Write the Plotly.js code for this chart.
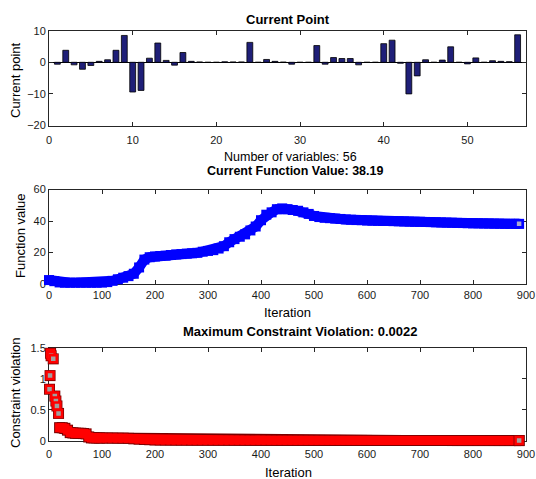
<!DOCTYPE html>
<html>
<head>
<meta charset="utf-8">
<script src="https://cdn.plot.ly/plotly-3.0.1.min.js"></script>
<style>html,body{margin:0;padding:0;background:#fff}#chart{width:536px;height:479px}</style>
</head>
<body>
<div id="chart"></div>
<script>
// ---- Data ----
const barValues = [-0.6, 3.8, -0.8, -2.2, -1.0, 0.3, 0.8, 3.8, 8.5, -9.4,
  -8.9, 1.3, 6.1, 0.6, -0.9, 3.1, 0.3, 0.1, 0.0, 0.0,
  0.15, 0.1, 0.1, 6.3, 0.0, 0.9, 0.3, 0.05, -0.6, 0.0,
  0.0, 5.3, -0.6, 1.5, 1.2, 1.2, -0.8, 0.0, 0.0, 5.9,
  7.0, -0.3, -10.0, -4.3, 0.8, 0.0, 0.7, 4.9, 0.0, -0.5,
  1.4, 0.0, 0.5, 0.3, 0.2, 8.7];
const barIndex = barValues.map((_, i) => i + 1);

const fvalIter = [0,10,20,30,40,50,60,70,80,90,100,110,120,130,140,150,160,170,180,190,
  200,210,220,230,240,250,260,270,280,290,300,310,320,330,340,350,360,370,380,390,
  400,410,420,430,440,450,460,470,480,490,500,510,520,530,540,550,560,570,580,590,
  600,610,620,630,640,650,660,670,680,690,700,710,720,730,740,750,760,770,780,790,
  800,810,820,830,840,850,860,870,880,887];
const fvalValues = [2.5,1.8,1.0,0.8,0.8,0.8,0.8,0.8,0.8,0.8,0.9,1.2,2.0,3.0,4.0,5.0,6.5,10.5,15.5,17.0,
  17.5,17.8,18.0,18.4,18.8,19.0,19.3,19.5,19.8,20.5,21.0,21.5,22.5,24.0,26.5,28.5,30.0,31.5,34.0,36.5,
  40.5,44.0,45.5,47.5,48.0,47.5,47.0,46.5,45.5,44.5,43.2,42.5,42.0,41.8,41.5,41.3,41.0,40.8,40.6,40.5,
  40.3,40.2,40.1,40.0,40.0,39.9,39.8,39.7,39.6,39.5,39.5,39.4,39.3,39.2,39.1,39.0,38.9,38.8,38.7,38.6,
  38.5,38.5,38.4,38.4,38.3,38.3,38.2,38.2,38.2,38.19];

const cvEarlyIter = [1, 2, 3, 4, 8, 11, 13, 15, 18];
const cvEarlyValues = [0.83, 1.05, 1.41, 1.37, 1.32, 0.72, 0.64, 0.56, 0.44];
const cvIter = [20,25,30,35,40,45,50,55,60,65,70,75,80,85,90,95,100,110,120,130,140,150,160,170,180,190,
  200,210,220,230,240,250,260,270,280,290,300,310,320,330,340,350,360,370,380,390,
  400,410,420,430,440,450,460,470,480,490,500,510,520,530,540,550,560,570,580,590,
  600,610,620,630,640,650,660,670,680,690,700,710,720,730,740,750,760,770,780,790,
  800,810,820,830,840,850,860,870,880,887];
const cvValues = [0.21,0.21,0.20,0.17,0.13,0.125,0.12,0.12,0.12,0.115,0.11,0.06,0.045,0.045,0.045,0.044,0.043,0.042,0.042,0.04,0.04,0.038,0.03,0.025,0.02,0.016,
  0.012,0.011,0.010,0.010,0.009,0.009,0.009,0.008,0.008,0.008,0.008,0.0078,0.0076,0.0074,0.0072,0.007,0.0068,0.0066,0.0064,0.0062,
  0.006,0.0058,0.0056,0.0055,0.0054,0.0052,0.0051,0.005,0.005,0.0049,0.0048,0.0046,0.0045,0.0044,0.0043,0.0042,0.0041,0.004,0.004,0.0039,
  0.0038,0.0037,0.0036,0.0035,0.0034,0.0033,0.0032,0.0031,0.003,0.003,0.0029,0.0029,0.0028,0.0028,0.0027,0.0027,0.0026,0.0026,0.0025,0.0025,
  0.0025,0.0024,0.0024,0.0024,0.0023,0.0023,0.0023,0.0022,0.0022,0.0022];

const nVars = barValues.length;
const finalF = fvalValues[fvalValues.length - 1];
const finalC = cvValues[cvValues.length - 1];

const topXTicks = [0, 10, 20, 30, 40, 50];
const topYTicks = [-20, -10, 0, 10];
const iterTicks = [0, 100, 200, 300, 400, 500, 600, 700, 800, 900];
const fvalTicks = [0, 20, 40, 60];
const cvTicks = [0, 0.5, 1, 1.5];
const cvTickText = ['0', '0.5', '1', '1.5'];

// ---- Traces ----
const lastF = {x: [fvalIter[fvalIter.length - 1]], y: [finalF]};
const lastC = {x: [cvIter[cvIter.length - 1]], y: [finalC]};
const sparseCx = cvEarlyIter.concat(lastC.x);
const sparseCy = cvEarlyValues.concat(lastC.y);

const traces = [
  {type: 'bar', x: barIndex, y: barValues, xaxis: 'x', yaxis: 'y', width: 0.7,
   marker: {color: '#1f1f78', line: {color: '#000000', width: 0.8}}, hoverinfo: 'x+y'},
  {type: 'scatter', mode: 'lines+markers', x: fvalIter, y: fvalValues, xaxis: 'x2', yaxis: 'y2', cliponaxis: false,
   line: {color: '#0000ff', width: 10}, marker: {symbol: 'square', size: 10, color: '#0000ff', line: {width: 0}}},
  {type: 'scatter', mode: 'markers', x: lastF.x, y: lastF.y, xaxis: 'x2', yaxis: 'y2', cliponaxis: false,
   marker: {symbol: 'square', size: 7, color: '#a8a8d0', line: {color: '#0000ff', width: 2.5}}},
  {type: 'scatter', mode: 'lines+markers', x: cvIter, y: cvValues, xaxis: 'x3', yaxis: 'y3', cliponaxis: false,
   line: {color: '#7a0000', width: 11}, marker: {symbol: 'square', size: 11, color: '#7a0000', line: {width: 0}}},
  {type: 'scatter', mode: 'lines+markers', x: cvIter, y: cvValues, xaxis: 'x3', yaxis: 'y3', cliponaxis: false,
   line: {color: '#ff0000', width: 9}, marker: {symbol: 'square', size: 9, color: '#ff0000', line: {width: 0}}},
  {type: 'scatter', mode: 'markers', x: sparseCx, y: sparseCy, xaxis: 'x3', yaxis: 'y3', cliponaxis: false,
   marker: {symbol: 'square', size: 11, color: '#7a0000', line: {width: 0}}},
  {type: 'scatter', mode: 'markers', x: sparseCx, y: sparseCy, xaxis: 'x3', yaxis: 'y3', cliponaxis: false,
   marker: {symbol: 'square', size: 7, color: '#a0a0a0', line: {color: '#ff0000', width: 2.5}}}
];

// ---- Layout ----
const FONT = 'Liberation Sans, Arial, Helvetica, sans-serif';
const axisBase = {
  showline: true, mirror: 'ticks', linecolor: '#262626', linewidth: 1,
  ticks: 'inside', ticklen: 4, tickcolor: '#262626', tickwidth: 1,
  showgrid: false, zeroline: false, fixedrange: true,
  tickfont: {family: FONT, size: 11, color: '#1a1a1a'}
};
const xd = [49 / 536, 526 / 536];
const layout = {
  width: 536, height: 479,
  margin: {l: 0, r: 0, t: 0, b: 0},
  paper_bgcolor: '#ffffff', plot_bgcolor: '#ffffff',
  showlegend: false,
  font: {family: FONT, size: 13, color: '#000000'},
  xaxis: Object.assign({}, axisBase, {domain: xd, anchor: 'y', range: [0, nVars + 1], tickvals: topXTicks, ticklabelstandoff: 4}),
  yaxis: Object.assign({}, axisBase, {domain: [1 - 125.5 / 479, 1 - 30.7 / 479], anchor: 'x', range: [-20, 10], tickvals: topYTicks,
    zeroline: true, zerolinecolor: '#000000', zerolinewidth: 1}),
  xaxis2: Object.assign({}, axisBase, {domain: xd, anchor: 'y2', range: [0, 900], tickvals: iterTicks, layer: 'below traces', ticklabelstandoff: 1}),
  yaxis2: Object.assign({}, axisBase, {domain: [1 - 284 / 479, 1 - 189.5 / 479], anchor: 'x2', range: [0, 60], tickvals: fvalTicks, layer: 'below traces'}),
  xaxis3: Object.assign({}, axisBase, {domain: xd, anchor: 'y3', range: [0, 900], tickvals: iterTicks, layer: 'below traces', ticklabelstandoff: 3}),
  yaxis3: Object.assign({}, axisBase, {domain: [1 - 440.7 / 479, 1 - 347.7 / 479], anchor: 'x3', range: [0, 1.5], tickvals: cvTicks, ticktext: cvTickText, layer: 'below traces'}),
  annotations: [
    {text: '<b>Current Point</b>', x: 288 / 536, y: 1 - 19 / 479},
    {text: 'Number of variables: ' + nVars, x: 290 / 536, y: 1 - 156.5 / 479, font: {family: FONT, size: 12.5, color: '#000000'}},
    {text: '<b>Current Function Value: ' + finalF.toFixed(2) + '</b>', x: 295 / 536, y: 1 - 171 / 479, font: {family: FONT, size: 12.5, color: '#000000'}},
    {text: 'Iteration', x: 287 / 536, y: 1 - 312 / 479},
    {text: '<b>Maximum Constraint Violation: ' + finalC.toFixed(4) + '</b>', x: 300 / 536, y: 1 - 331 / 479},
    {text: 'Iteration', x: 288 / 536, y: 1 - 472 / 479},
    {text: 'Current point', x: 15 / 536, y: 1 - 80 / 479, textangle: -90},
    {text: 'Function value', x: 20 / 536, y: 1 - 236 / 479, textangle: -90},
    {text: 'Constraint violation', x: 15 / 536, y: 1 - 393 / 479, textangle: -90}
  ].map(a => Object.assign({xref: 'paper', yref: 'paper', showarrow: false, xanchor: 'center', yanchor: 'middle',
    font: {family: FONT, size: 13, color: '#000000'}}, a))
};

Plotly.newPlot('chart', traces, layout, {displayModeBar: false, staticPlot: true});
</script>
</body>
</html>
